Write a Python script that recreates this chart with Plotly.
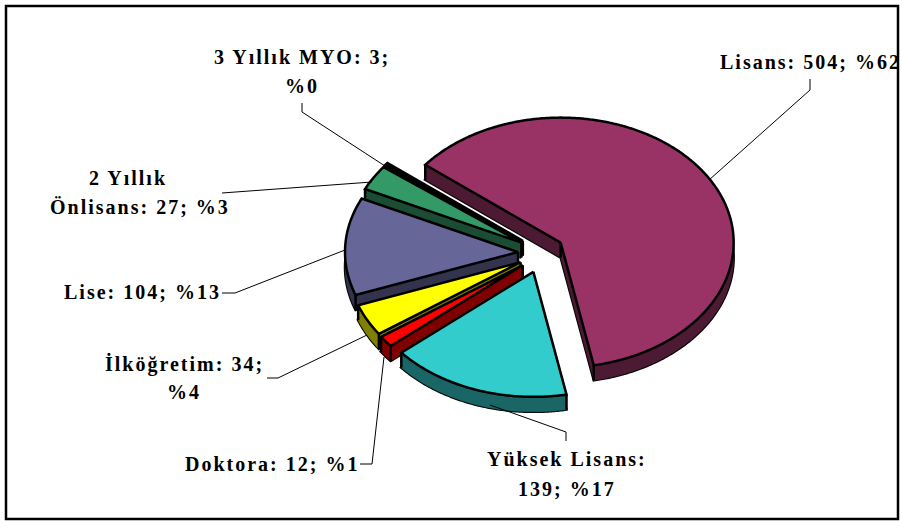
import numpy as np
import plotly.graph_objects as go

categories = ["Lisans", "Yüksek Lisans", "Doktora", "İlköğretim", "Lise", "2 Yıllık Önlisans", "3 Yıllık MYO"]
values = [504, 139, 12, 34, 104, 27, 3]
top_colors = ["#993366", "#33CCCC", "#FF0000", "#FFFF00", "#666699", "#339966", "#000000"]
wall_colors = ["#4D1A33", "#1A6666", "#800000", "#808000", "#33334D", "#1A4D33", "#000000"]
label_lines = [
    ("Lisans: 504; %62", 810, 62),
    ("Yüksek Lisans:", 567, 459),
    ("139; %17", 567, 489),
    ("Doktora: 12; %1", 272, 464),
    ("İlköğretim: 34;", 184, 364),
    ("%4", 184, 392),
    ("Lise: 104; %13", 142, 292),
    ("2 Yıllık", 128, 178),
    ("Önlisans: 27; %3", 140, 207),
    ("3 Yıllık MYO: 3;", 302, 57),
    ("%0", 302, 86),
]
leaders = [
    [(810, 79), (810, 90), (709, 180)],
    [(566, 441), (566, 432), (490, 405)],
    [(360, 464), (372, 464), (384, 357)],
    [(267, 378), (278, 378), (367, 335)],
    [(222, 293), (235, 293), (345, 250)],
    [(222, 193), (372, 182)],
    [(302, 103), (302, 112), (385, 166)],
]

CX, CY, RX, RY, DEPTH = 541, 253, 173, 125, 15
EX, EY = 23, 20
START = 141.5

fig = go.Figure()
total = sum(values)
sweeps = [v / total * 360 for v in values]
starts = START - np.concatenate([[0], np.cumsum(sweeps)[:-1]])


def wedge(i):
    a0, a1 = starts[i], starts[i] - sweeps[i]
    mid = np.radians((a0 + a1) / 2)
    ax = CX + EX * np.cos(mid)
    ay = CY - EY * np.sin(mid)
    t = np.radians(np.linspace(a0, a1, max(8, int(sweeps[i] * 2))))
    return ax, ay, ax + RX * np.cos(t), ay - RY * np.sin(t)


def poly(x, y, fill, line_color, width):
    fig.add_trace(go.Scatter(x=x, y=y, mode="lines", fill="toself", fillcolor=fill,
                             line=dict(color=line_color, width=width, simplify=False),
                             hoverinfo="skip", showlegend=False))


for i in [6, 5, 4, 3, 2, 1, 0]:
    ax, ay, ex, ey = wedge(i)
    px = np.concatenate([[ax], ex, [ax]])
    py = np.concatenate([[ay], ey, [ay]])
    wc = wall_colors[i]
    poly(px, py + DEPTH, wc, "black", 2.5)
    poly([ax, ex[0], ex[0], ax, ax], [ay, ey[0], ey[0] + DEPTH, ay + DEPTH, ay], wc, wc, 0.5)
    poly([ax, ex[-1], ex[-1], ax, ax], [ay, ey[-1], ey[-1] + DEPTH, ay + DEPTH, ay], wc, wc, 0.5)
    poly(np.concatenate([ex, ex[::-1], ex[:1]]),
         np.concatenate([ey, ey[::-1] + DEPTH, ey[:1]]), wc, wc, 0.5)
    vx, vy = [], []
    for cx_, cy_ in [(ax, ay), (ex[0], ey[0]), (ex[-1], ey[-1])]:
        vx += [cx_, cx_, None]
        vy += [cy_, cy_ + DEPTH, None]
    fig.add_trace(go.Scatter(x=vx, y=vy, mode="lines", line=dict(color="black", width=2.5),
                             hoverinfo="skip", showlegend=False))
    poly(px, py, top_colors[i], "black", 2.5)

for pts in leaders:
    fig.add_trace(go.Scatter(x=[p[0] for p in pts], y=[p[1] for p in pts], mode="lines",
                             line=dict(color="black", width=1), hoverinfo="skip", showlegend=False))

for txt, x, y in label_lines:
    fig.add_annotation(x=x, y=y, text="<b>" + txt + "</b>", showarrow=False, xanchor="center", yanchor="middle",
                       font=dict(family="Liberation Serif", size=20, color="black"))

fig.add_shape(type="rect", x0=6, y0=6, x1=898, y1=519, line=dict(color="black", width=2.5), layer="below")
fig.update_layout(width=902, height=521, margin=dict(l=0, r=0, t=0, b=0), paper_bgcolor="white",
                  plot_bgcolor="white", showlegend=False,
                  xaxis=dict(range=[0, 902], visible=False, fixedrange=True),
                  yaxis=dict(range=[521, 0], visible=False, fixedrange=True))
post = """
document.body.style.margin = '0';
document.querySelectorAll('.annotation-text').forEach(function (t) { t.style.letterSpacing = '2px'; });
"""
fig.write_html("out.html", config={"displayModeBar": False}, post_script=post)
